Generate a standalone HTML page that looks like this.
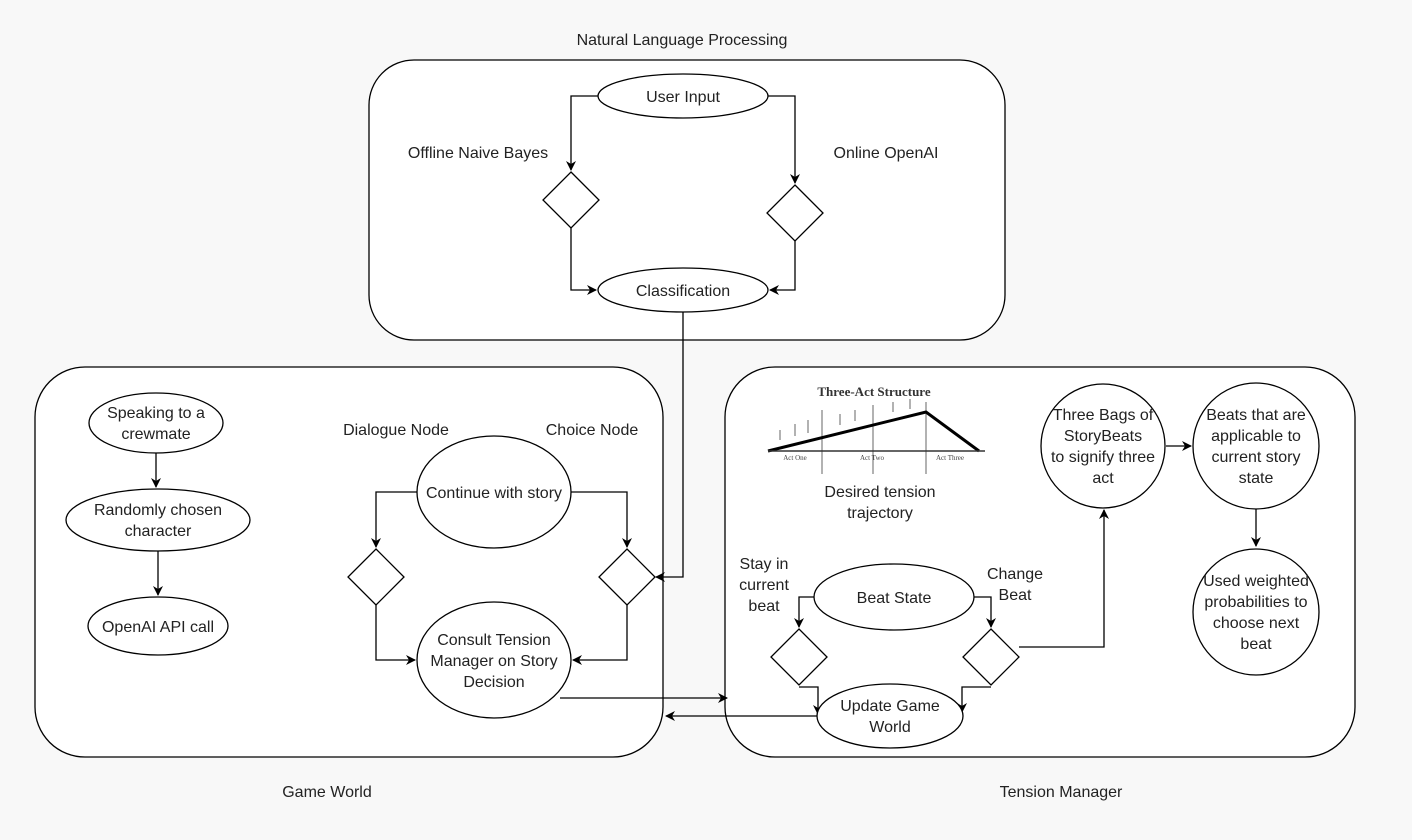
<!DOCTYPE html>
<html><head><meta charset="utf-8"><style>
html,body{margin:0;padding:0;background:#f8f8f8;}
svg{display:block;font-family:"Liberation Sans",Arial,sans-serif;}
</style></head><body>
<svg width="1412" height="840" viewBox="0 0 1412 840" xmlns="http://www.w3.org/2000/svg">
<defs><marker id="a" markerWidth="10" markerHeight="10" refX="9" refY="5" orient="auto" markerUnits="userSpaceOnUse"><path d="M0,0 L10,5 L0,10 L3,5 z" fill="#000"/></marker></defs>
<rect width="1412" height="840" fill="#f8f8f8"/>
<g fill="#fff" stroke="#000" stroke-width="1.3">
<rect x="369" y="60" width="636" height="280" rx="45"/>
<rect x="35" y="367" width="628" height="390" rx="50"/>
<rect x="725" y="367" width="630" height="390" rx="50"/>
</g>
<g font-size="16" text-anchor="middle" fill="#222">
<text x="682" y="45">Natural Language Processing</text>
<text x="327" y="797">Game World</text>
<text x="1061" y="797">Tension Manager</text>
</g>
<g fill="none" stroke="#000" stroke-width="1.3">
<path d="M598,96 H571 V170" marker-end="url(#a)"/>
<path d="M768,96 H795 V183" marker-end="url(#a)"/>
<path d="M571,228 V290 H596" marker-end="url(#a)"/>
<path d="M795,241 V290 H770" marker-end="url(#a)"/>
<path d="M683,312 V577 H656" marker-end="url(#a)"/>
<path d="M156,453 V487" marker-end="url(#a)"/>
<path d="M158,551 V595" marker-end="url(#a)"/>
<path d="M417,492 H376 V547" marker-end="url(#a)"/>
<path d="M571,492 H627 V547" marker-end="url(#a)"/>
<path d="M376,605 V660 H415" marker-end="url(#a)"/>
<path d="M627,605 V660 H573" marker-end="url(#a)"/>
<path d="M560,698 H727" marker-end="url(#a)"/>
<path d="M818,716 H666" marker-end="url(#a)"/>
<path d="M814,597 H799 V627" marker-end="url(#a)"/>
<path d="M974,597 H991 V627" marker-end="url(#a)"/>
<path d="M799,687 H818 V714" marker-end="url(#a)"/>
<path d="M991,687 H962 V712" marker-end="url(#a)"/>
<path d="M1019,647 H1104 V510" marker-end="url(#a)"/>
<path d="M1166,446 H1191" marker-end="url(#a)"/>
<path d="M1256,509 V546" marker-end="url(#a)"/>
</g>
<g fill="#fff" stroke="#000" stroke-width="1.3">
<ellipse cx="683" cy="96" rx="85" ry="22"/>
<ellipse cx="683" cy="290" rx="85" ry="22"/>
<path d="M571,172 L599,200 L571,228 L543,200 z"/>
<path d="M795,185 L823,213 L795,241 L767,213 z"/>
<ellipse cx="156" cy="423" rx="67" ry="30"/>
<ellipse cx="158" cy="520" rx="92" ry="31"/>
<ellipse cx="158" cy="626" rx="70" ry="29"/>
<ellipse cx="494" cy="492" rx="77" ry="56"/>
<ellipse cx="494" cy="660" rx="77" ry="58"/>
<path d="M376,549 L404,577 L376,605 L348,577 z"/>
<path d="M627,549 L655,577 L627,605 L599,577 z"/>
<ellipse cx="894" cy="597" rx="80" ry="33"/>
<ellipse cx="890" cy="716" rx="73" ry="32"/>
<path d="M799,629 L827,657 L799,685 L771,657 z"/>
<path d="M991,629 L1019,657 L991,685 L963,657 z"/>
<circle cx="1103" cy="446" r="62"/>
<circle cx="1256" cy="446" r="63"/>
<circle cx="1256" cy="612" r="63"/>
</g>
<g>
<rect x="760" y="378" width="225" height="87" fill="#fff"/>
<text x="874" y="396" font-family="Liberation Serif,serif" font-size="13" font-weight="bold" text-anchor="middle" fill="#333">Three-Act Structure</text>
<g stroke="#666" stroke-width="1" fill="none">
<line x1="822" y1="410" x2="822" y2="474"/><line x1="873" y1="405" x2="873" y2="474"/><line x1="926" y1="402" x2="926" y2="474"/>
<line x1="780" y1="440" x2="780" y2="430"/><line x1="795" y1="436" x2="795" y2="424"/><line x1="808" y1="433" x2="808" y2="420"/>
<line x1="840" y1="425" x2="840" y2="414"/><line x1="855" y1="421" x2="855" y2="410"/><line x1="893" y1="412" x2="893" y2="402"/><line x1="910" y1="409" x2="910" y2="399"/>
</g>
<path d="M768,451 L926,412 L979,451" stroke="#000" stroke-width="3" fill="none"/>
<line x1="768" y1="451" x2="985" y2="451" stroke="#333" stroke-width="1.5"/>
<g font-family="Liberation Serif,serif" font-size="7" fill="#444" text-anchor="middle">
<text x="795" y="460">Act One</text><text x="872" y="460">Act Two</text><text x="950" y="460">Act Three</text>
</g>
</g>
<g font-size="16" text-anchor="middle" fill="#222">
<text x="683" y="102">User Input</text>
<text x="683" y="296">Classification</text>
<text x="478" y="158">Offline Naive Bayes</text>
<text x="886" y="158">Online OpenAI</text>
<text x="156" y="418">Speaking to a</text><text x="156" y="439">crewmate</text>
<text x="158" y="515">Randomly chosen</text><text x="158" y="536">character</text>
<text x="158" y="632">OpenAI API call</text>
<text x="396" y="435">Dialogue Node</text>
<text x="592" y="435">Choice Node</text>
<text x="494" y="498">Continue with story</text>
<text x="494" y="645">Consult Tension</text><text x="494" y="666">Manager on Story</text><text x="494" y="687">Decision</text>
<text x="880" y="497">Desired tension</text><text x="880" y="518">trajectory</text>
<text x="764" y="569">Stay in</text><text x="764" y="590">current</text><text x="764" y="611">beat</text>
<text x="1015" y="579">Change</text><text x="1015" y="600">Beat</text>
<text x="894" y="603">Beat State</text>
<text x="890" y="711">Update Game</text><text x="890" y="732">World</text>
<text x="1103" y="420">Three Bags of</text><text x="1103" y="441">StoryBeats</text><text x="1103" y="462">to signify three</text><text x="1103" y="483">act</text>
<text x="1256" y="420">Beats that are</text><text x="1256" y="441">applicable to</text><text x="1256" y="462">current story</text><text x="1256" y="483">state</text>
<text x="1256" y="586">Used weighted</text><text x="1256" y="607">probabilities to</text><text x="1256" y="628">choose next</text><text x="1256" y="649">beat</text>
</g>
</svg>
</body></html>
